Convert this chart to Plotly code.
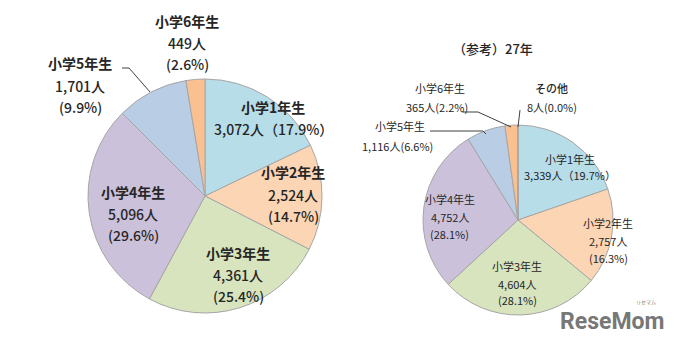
import plotly.graph_objects as go

W, H = 673, 343

# Students by grade (current year)
grades_now = ["小学1年生", "小学2年生", "小学3年生", "小学4年生", "小学5年生", "小学6年生"]
counts_now = [3072, 2524, 4361, 5096, 1701, 449]
pct_now = ["17.9%", "14.7%", "25.4%", "29.6%", "9.9%", "2.6%"]

# Reference year (27年)
grades_ref = ["小学1年生", "小学2年生", "小学3年生", "小学4年生", "小学5年生", "小学6年生", "その他"]
counts_ref = [3339, 2757, 4604, 4752, 1116, 365, 8]
pct_ref = ["19.7%", "16.3%", "28.1%", "28.1%", "6.6%", "2.2%", "0.0%"]

colors_now = ["#b7dde8", "#fcd5b5", "#d7e4bd", "#ccc1da", "#b9cde5", "#fac090"]
colors_ref = ["#b7dde8", "#fcd5b5", "#d7e4bd", "#ccc1da", "#b9cde5", "#fac090", "#fac090"]

FONT = "Noto Sans CJK JP"
TXT = "#262626"


def px(x):
    return x / W


def py(y):
    return 1 - y / H


fig = go.Figure()

# Left pie: centre (205,196), radius ~117
fig.add_trace(go.Pie(
    labels=grades_now, values=counts_now, sort=False, direction="clockwise",
    rotation=0, textinfo="none", hoverinfo="skip",
    marker=dict(colors=colors_now, line=dict(color="#a6a6a6", width=1)),
    domain=dict(x=[px(88), px(322)], y=[py(313), py(79)]),
    showlegend=False,
))

# Right pie: centre (518,220), radius ~95
fig.add_trace(go.Pie(
    labels=grades_ref, values=counts_ref, sort=False, direction="clockwise",
    rotation=0, textinfo="none", hoverinfo="skip",
    marker=dict(colors=colors_ref, line=dict(color="#a6a6a6", width=1)),
    domain=dict(x=[px(423), px(613)], y=[py(315), py(125)]),
    showlegend=False,
))


def n(v):
    return f"{v:,}人"


annotations = []


def add_lines(x, ys, lines, size, first_weight=400, weight=400):
    for i, (yy, t) in enumerate(zip(ys, lines)):
        annotations.append(dict(
            x=px(x), y=py(yy), xref="paper", yref="paper", text=t,
            showarrow=False, xanchor="center", yanchor="middle",
            font=dict(family=FONT, size=size, color=TXT,
                      weight=first_weight if i == 0 else weight),
        ))


L = 14
# left chart labels
add_lines(273, [107, 129], [grades_now[0], f"{n(counts_now[0])}（{pct_now[0]}）"], L, 600, 500)
add_lines(293, [172, 195, 216], [grades_now[1], n(counts_now[1]), f"({pct_now[1]})"], L, 600, 500)
add_lines(238, [253, 275, 296], [grades_now[2], n(counts_now[2]), f"({pct_now[2]})"], L, 600, 500)
add_lines(133, [192, 214, 235], [grades_now[3], n(counts_now[3]), f"({pct_now[3]})"], L, 600, 500)
add_lines(80, [63, 86, 107], [grades_now[4], n(counts_now[4]), f"({pct_now[4]})"], L, 600, 500)
add_lines(187, [21, 43, 64], [grades_now[5], n(counts_now[5]), f"({pct_now[5]})"], L, 600, 500)

S = 11
# right chart labels
add_lines(493, [49], ["（参考）27年"], 13, 500)
add_lines(570, [159, 175], [grades_ref[0], f"{n(counts_ref[0])}（{pct_ref[0]}）"], S)
add_lines(608, [223, 241, 258], [grades_ref[1], n(counts_ref[1]), f"({pct_ref[1]})"], S)
add_lines(517, [266, 284, 300], [grades_ref[2], n(counts_ref[2]), f"({pct_ref[2]})"], S)
add_lines(450, [199, 217, 234], [grades_ref[3], n(counts_ref[3]), f"({pct_ref[3]})"], S)
add_lines(400, [126], [grades_ref[4]], S)
add_lines(397, [146], [f"{n(counts_ref[4])}({pct_ref[4]})"], S)
add_lines(440, [88], [grades_ref[5]], S)
add_lines(437, [107], [f"{n(counts_ref[5])}({pct_ref[5]})"], S)
add_lines(551, [88], [grades_ref[6]], S, 500)
add_lines(552, [107], [f"{n(counts_ref[6])}({pct_ref[6]})"], S)

# watermark
annotations.append(dict(
    x=px(612), y=py(321), xref="paper", yref="paper", text="<b>ReseMom</b>",
    showarrow=False, xanchor="center", yanchor="middle",
    font=dict(family="Liberation Sans Narrow, Roboto", size=23, color="#777777"),
))
annotations.append(dict(
    x=px(646), y=py(302), xref="paper", yref="paper", text="リセマム",
    showarrow=False, xanchor="center", yanchor="middle",
    font=dict(family=FONT, size=5, color="#7a7a7a"),
))

# leader lines
leaders = [
    [(122, 68), (129, 68), (150, 92)],
    [(462, 112), (478, 112), (511, 127)],
    [(520, 110), (518, 127)],
    [(430, 131), (483, 131), (486, 134)],
]
shapes = []
for pts in leaders:
    path = "M " + " L ".join(f"{px(x)},{py(y)}" for x, y in pts)
    shapes.append(dict(type="path", path=path, xref="paper", yref="paper",
                       line=dict(color="#404040", width=1)))

fig.update_layout(
    width=W, height=H, margin=dict(l=0, r=0, t=0, b=0),
    paper_bgcolor="white", plot_bgcolor="white",
    annotations=annotations, shapes=shapes,
)

fig.write_html("out.html")
